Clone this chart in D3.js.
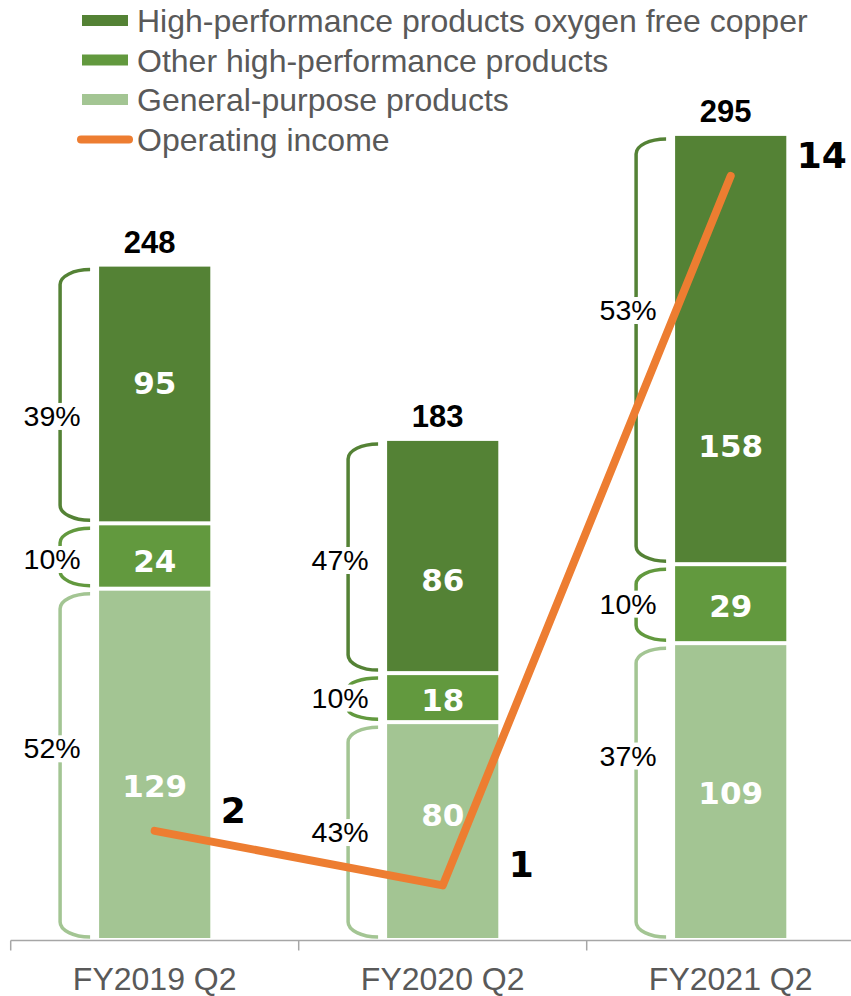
<!DOCTYPE html>
<html>
<head>
<meta charset="utf-8">
<script src="https://cdn.jsdelivr.net/npm/d3@7"></script>
<style>
  html, body { margin: 0; padding: 0; background: #ffffff; }
  svg { display: block; }
</style>
</head>
<body>
<div id="chart"></div>
<script>
// ---- data ----
const categories = ["FY2019 Q2", "FY2020 Q2", "FY2021 Q2"];
const seriesNames = [
  "General-purpose products",
  "Other high-performance products",
  "High-performance products oxygen free copper"
];
const generalPurpose = [129, 80, 109];
const otherHighPerformance = [24, 18, 29];
const oxygenFreeCopper = [95, 86, 158];
const totalLabels = ["248", "183", "295"];
const shareGeneral = ["52%", "43%", "37%"];
const shareOther = ["10%", "10%", "10%"];
const shareOxygenFree = ["39%", "47%", "53%"];
const operatingIncome = [2, 1, 14];
const incomeAxisMax = 14;
const salesAxisTicks = [0, 300];

// ---- layout ----
const W = 851, H = 996;
const baseY = 940;
const colors = ["#a3c593", "#62993e", "#548235"];
const lineColor = "#ed7d31";
const textGrey = "#595959";
// vertical shifts (px) of in-bar values and share labels, per category / series
const valueShift = [[21, 5, -11], [-16, 2, 24], [1, 2, 97]];
const shareShift = [[-16, 3, 22], [1, 0, 4], [-36, 0, -39]];

const svg = d3.select("#chart").append("svg")
  .attr("width", W).attr("height", H);

const x = d3.scaleBand()
  .domain(categories)
  .range([10.7, 874.7])
  .paddingInner(0.6)
  .paddingOuter(0.3);

const y = d3.scaleLinear().domain(salesAxisTicks).range([baseY, 123]);
const y2 = d3.scaleLinear().domain([0, incomeAxisMax]).range([baseY, 176]);

const seriesValues = [generalPurpose, otherHighPerformance, oxygenFreeCopper];
const shareLabels = [shareGeneral, shareOther, shareOxygenFree];

const rows = categories.map((c, i) => {
  const r = { category: c };
  seriesNames.forEach((s, j) => { r[s] = seriesValues[j][i]; });
  return r;
});
const stacked = d3.stack().keys(seriesNames)(rows);

const gap = 2;
const barsG = svg.append("g");
stacked.forEach((layer, j) => {
  barsG.selectAll(null).data(layer).enter().append("rect")
    .attr("x", d => x(d.data.category) + gap)
    .attr("width", x.bandwidth() - 2 * gap)
    .attr("y", d => y(d[1]) + gap)
    .attr("height", d => y(d[0]) - y(d[1]) - 2 * gap)
    .attr("fill", colors[j]);
});

// in-bar values
const valG = svg.append("g");
stacked.forEach((layer, j) => {
  valG.selectAll(null).data(layer).enter().append("text")
    .attr("x", d => x(d.data.category) + x.bandwidth() / 2)
    .attr("y", (d, i) => (y(d[0]) + y(d[1])) / 2 + valueShift[i][j])
    .attr("dy", "0.36em")
    .attr("text-anchor", "middle")
    .attr("font-family", "'DejaVu Sans', sans-serif")
    .attr("font-weight", "bold")
    .attr("font-size", 31)
    .attr("fill", "#ffffff")
    .text((d, i) => seriesValues[j][i]);
});

// braces with share labels
const braceG = svg.append("g");
const shareG = svg.append("g");
stacked.forEach((layer, j) => {
  layer.forEach((d, i) => {
    const bl = x(d.data.category);
    const xr = bl - 7, xl = bl - 37;
    const top = y(d[1]) + gap + 3;
    const bot = y(d[0]) - gap - 1;
    const mid = (y(d[0]) + y(d[1])) / 2 + shareShift[i][j];
    const h = bot - top;
    const ry = Math.min(15, h / 4);
    const rx = xr - xl, k = 0.552;
    const tip = 8;
    const p = d3.path();
    p.moveTo(xr, top);
    p.bezierCurveTo(xr - k * rx, top, xl, top + ry - k * ry, xl, top + ry);
    p.lineTo(xl, Math.max(top + ry, mid - ry));
    p.quadraticCurveTo(xl, mid, xl - tip, mid);
    p.quadraticCurveTo(xl, mid, xl, Math.min(bot - ry, mid + ry));
    p.lineTo(xl, bot - ry);
    p.bezierCurveTo(xl, bot - ry + k * ry, xr - k * rx, bot, xr, bot);
    braceG.append("path")
      .attr("d", p.toString())
      .attr("fill", "none")
      .attr("stroke", colors[j])
      .attr("stroke-width", 3.5);

    const g = shareG.append("g");
    const t = g.append("text")
      .attr("x", bl - 45)
      .attr("y", mid)
      .attr("dy", "0.35em")
      .attr("text-anchor", "middle")
      .attr("font-family", "'Liberation Sans', Arial, sans-serif")
      .attr("font-size", 28.5)
      .attr("fill", "#000000")
      .text(shareLabels[j][i]);
    const bb = t.node().getBBox();
    g.insert("rect", "text")
      .attr("x", bb.x - 1).attr("y", bb.y + 3)
      .attr("width", bb.width + 2).attr("height", bb.height - 5)
      .attr("fill", "#ffffff");
  });
});

// totals above bars
svg.append("g").selectAll("text").data(stacked[stacked.length - 1]).enter().append("text")
  .attr("x", d => x(d.data.category) + x.bandwidth() / 2 - 5)
  .attr("y", d => y(d[1]) - 12)
  .attr("text-anchor", "middle")
  .attr("font-family", "'Liberation Sans', Arial, sans-serif")
  .attr("font-weight", "bold")
  .attr("font-size", 31)
  .attr("fill", "#000000")
  .text((d, i) => totalLabels[i]);

// x axis
const axisG = svg.append("g").attr("transform", `translate(0,${baseY + 0.5})`);
axisG.call(d3.axisBottom(x).tickSize(0).tickPadding(0));
axisG.select(".domain").attr("stroke", "#a6a6a6").attr("stroke-width", 1.5)
  .attr("d", `M${x.range()[0]},0H${x.range()[1]}`);
axisG.selectAll(".tick text")
  .attr("y", 49).attr("dy", 0)
  .attr("font-family", "'Liberation Sans', Arial, sans-serif")
  .attr("font-size", 32)
  .attr("fill", textGrey);
const bounds = d3.range(categories.length + 1).map(i => x.range()[0] + i * x.step());
axisG.selectAll("line.sep").data(bounds).enter().append("line")
  .attr("class", "sep")
  .attr("x1", d => d).attr("x2", d => d)
  .attr("y1", 0).attr("y2", 10)
  .attr("stroke", "#a6a6a6").attr("stroke-width", 1.5);

// operating income line
const cx = c => x(c) + x.bandwidth() / 2;
const lineGen = d3.line().x((d, i) => cx(categories[i])).y(d => y2(d));
svg.append("path")
  .datum(operatingIncome)
  .attr("d", lineGen)
  .attr("fill", "none")
  .attr("stroke", lineColor)
  .attr("stroke-width", 8)
  .attr("stroke-linecap", "round")
  .attr("stroke-linejoin", "round");

svg.append("g").selectAll("text").data(operatingIncome).enter().append("text")
  .attr("x", (d, i) => cx(categories[i]) + 66)
  .attr("y", d => y2(d) - 8)
  .attr("font-family", "'DejaVu Sans', sans-serif")
  .attr("font-weight", "bold")
  .attr("font-size", 36)
  .attr("fill", "#000000")
  .text(d => d);

// legend
const legendItems = [
  { name: seriesNames[2], color: colors[2], type: "rect" },
  { name: seriesNames[1], color: colors[1], type: "rect" },
  { name: seriesNames[0], color: colors[0], type: "rect" },
  { name: "Operating income", color: lineColor, type: "line" }
];
const legend = svg.append("g");
legendItems.forEach((it, i) => {
  const base = 32 + i * 39.5;
  if (it.type === "rect") {
    legend.append("rect")
      .attr("x", 82).attr("y", base - 17)
      .attr("width", 46).attr("height", 11)
      .attr("fill", it.color);
  } else {
    legend.append("line")
      .attr("x1", 81).attr("x2", 129)
      .attr("y1", base - 11).attr("y2", base - 11)
      .attr("stroke", it.color).attr("stroke-width", 8)
      .attr("stroke-linecap", "round");
  }
  legend.append("text")
    .attr("x", 137).attr("y", base)
    .attr("font-family", "'Liberation Sans', Arial, sans-serif")
    .attr("font-size", 32)
    .attr("fill", textGrey)
    .text(it.name);
});
</script>
</body>
</html>
